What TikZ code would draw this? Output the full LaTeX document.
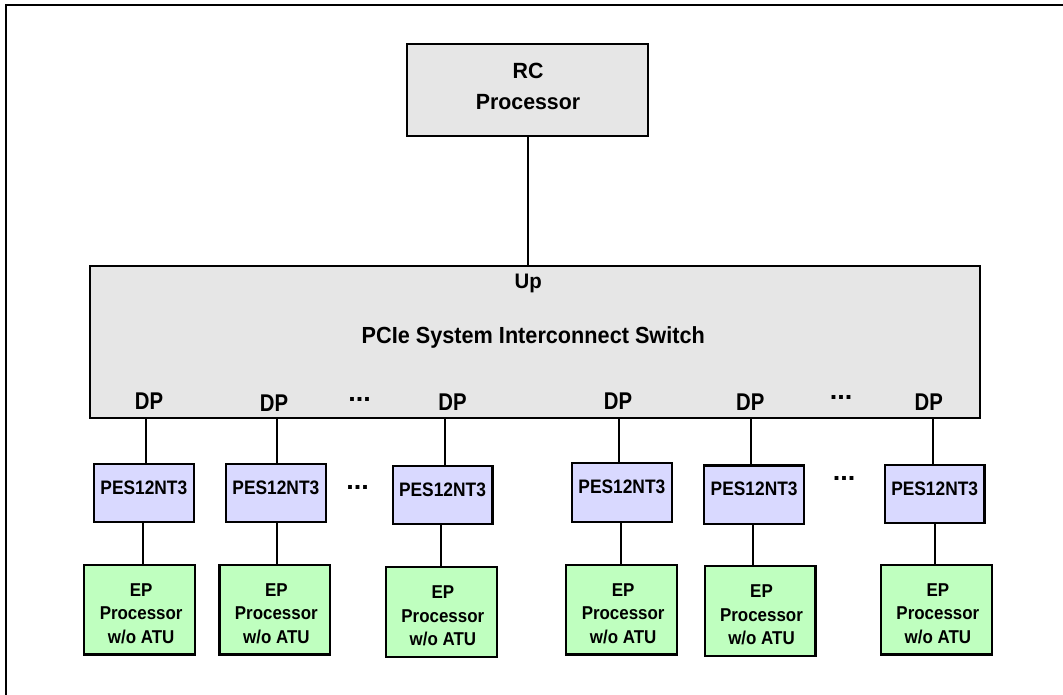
\documentclass[tikz,border=0pt]{standalone}
\usepackage{fontspec}
\setmainfont{Liberation Sans}
\newfontfamily\fSW[FakeStretch=0.93]{Liberation Sans}
\newfontfamily\fRC[FakeStretch=0.97]{Liberation Sans}
\newfontfamily\fDP[FakeStretch=0.84]{Liberation Sans}
\newfontfamily\fPES[FakeStretch=0.89]{Liberation Sans}
\newfontfamily\fEP[FakeStretch=0.91]{Liberation Sans}
\definecolor{boxgray}{HTML}{E6E6E6}
\definecolor{pesblue}{HTML}{D9D9FF}
\definecolor{epgreen}{HTML}{BFFFBF}
\begin{document}
\begin{tikzpicture}[x=1pt,y=-1pt,
  boxbase/.style={rectangle, draw=black, line width=2.2pt, inner sep=0pt},
  graybox/.style={boxbase, fill=boxgray},
  pesbox/.style={boxbase, fill=pesblue, minimum width=99.8pt, minimum height=58.3pt},
  epbox/.style={boxbase, fill=epgreen, minimum width=110.8pt, minimum height=89.8pt},
  conn/.style={line width=2pt},
  lbl/.style={anchor=base, inner sep=0pt, text=black},
  rclbl/.style={lbl, align=center, font=\fRC\bfseries\fontsize{22}{31}\selectfont},
  swlbl/.style={lbl, font=\fSW\bfseries\fontsize{23.3}{28}\selectfont},
  uplbl/.style={lbl, font=\fRC\bfseries\fontsize{21}{25}\selectfont},
  dplbl/.style={lbl, font=\fDP\bfseries\fontsize{24.2}{28}\selectfont},
  peslbl/.style={lbl, font=\fPES\bfseries\fontsize{19.5}{23}\selectfont},
  eplbl/.style={lbl, align=center, font=\fEP\bfseries\fontsize{18.6}{23.8}\selectfont},
  dotslbl/.style={lbl, font=\bfseries\fontsize{27}{30}\selectfont}
]
\useasboundingbox (0,0) rectangle (1063,695);
\fill[white] (0,0) rectangle (1063,695);

% outer frame
\coordinate (frameA) at (6,695);
\coordinate (frameB) at (6,5);
\coordinate (frameC) at (1063,5);
\draw[line width=2pt] (frameA) -- (frameB) -- (frameC);

% RC processor
\node[graybox, minimum width=240.8pt, minimum height=91.8pt] (rc) at (527.5,90) {};
\node[rclbl] (rct) at (528,110) {RC\\Processor};

% switch
\node[graybox, minimum width=889.8pt, minimum height=152.3pt] (sw) at (535,341.75) {};
\node[uplbl] (up) at (528.3,288) {Up};
\node[swlbl] (swt) at (533.3,343) {PCIe System Interconnect Switch};

\draw[conn] (rc.south) -- (rc.south |- sw.north);

% ellipses
\node[dotslbl] (dots1) at (359.5,401.3) {...};
\node[dotslbl] (dots2) at (841,399.5) {...};
\node[dotslbl] (dots3) at (357.5,489.3) {...};
\node[dotslbl] (dots4) at (844,480.3) {...};

\foreach \i/\pc/\py/\ec/\ey/\ux/\lx/\dx/\dy in {
  1/143.85/493/139.65/609.65/146/142.7/149/409.5,
  2/275.85/493/274.85/609.65/276.7/276.7/274/411,
  3/442.5/495/441.35/611.85/445/441/452.5/410.7,
  4/621.85/492.5/621.65/609.65/619.3/620.7/618/409.5,
  5/754.15/494.65/760/610.85/750.7/752.7/750.3/410.7,
  6/934.65/494.15/936.35/609.65/932.7/935/928.7/410.5}{
  \node[dplbl] (d\i) at (\dx,\dy) {DP};
  \node[pesbox] (p\i) at (\pc,\py) {};
  \node[peslbl] (pt\i) at (\pc,\py+1) {PES12NT3};
  \node[epbox] (e\i) at (\ec,\ey) {};
  \node[eplbl] (et\i) at (\ec+1.5,\ey+34) {EP\\Processor\\w/o ATU};
  \draw[conn] (sw.south -| \ux,0) -- (p\i.north -| \ux,0);
  \draw[conn] (p\i.south -| \lx,0) -- (e\i.north -| \lx,0);
}
\end{tikzpicture}
\end{document}
